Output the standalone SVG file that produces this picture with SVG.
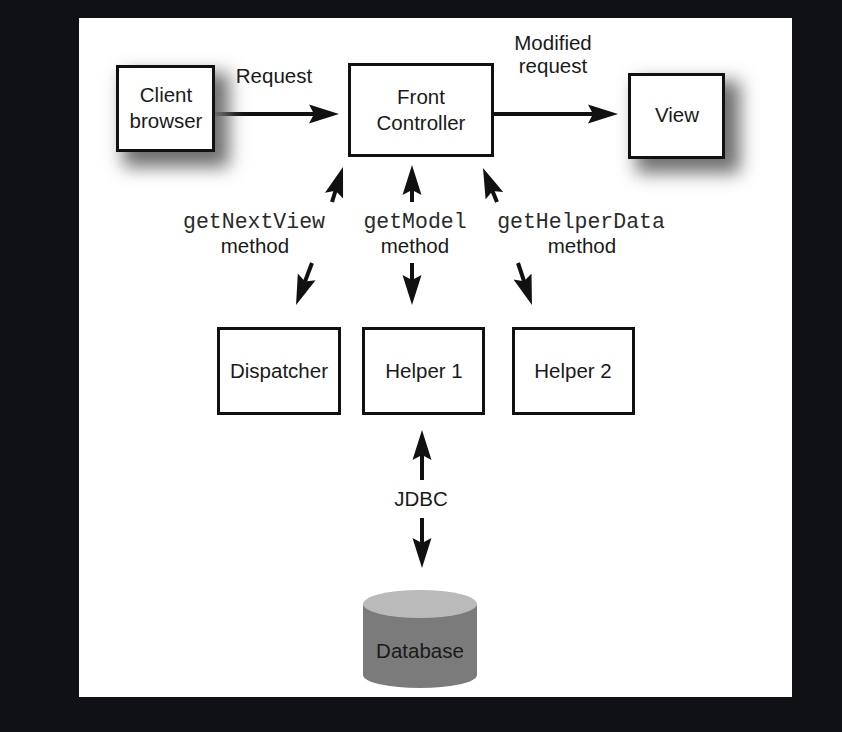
<svg xmlns="http://www.w3.org/2000/svg" width="842" height="732" viewBox="0 0 842 732">
<defs>
<style>
.box{fill:#fff;stroke:#111;stroke-width:3}
.lbl{font-family:"Liberation Sans",Arial,sans-serif;font-size:20.5px;fill:#1a1a1a;text-anchor:middle}
.mono{font-family:"Liberation Mono","Courier New",monospace;font-size:21.5px;fill:#2a2a2a;text-anchor:middle}
.conn{stroke:#111;stroke-width:4;fill:none;marker-end:url(#ah)}
.shadow{fill:#6e6e6e;filter:url(#blur)}
</style>
<filter id="blur" x="-50%" y="-50%" width="200%" height="200%">
<feGaussianBlur stdDeviation="9"/>
</filter>
<marker id="ah" markerUnits="userSpaceOnUse" viewBox="0 0 30 20" refX="20" refY="10" markerWidth="30" markerHeight="20" orient="auto">
<path d="M0,0.5 L30,10 L0,19.5 L5,10 Z" fill="#111"/>
</marker>
</defs>
<rect x="0" y="0" width="842" height="732" fill="#0f1115"/>
<rect x="79" y="18" width="713" height="679" fill="#fff"/>

<g id="connectors">
<line class="conn" x1="215" y1="114" x2="329" y2="114"/>
<line class="conn" x1="494" y1="114" x2="608" y2="114"/>
<line class="conn" x1="332" y1="202" x2="340" y2="176.5"/>
<line class="conn" x1="412" y1="202" x2="412" y2="175"/>
<line class="conn" x1="497" y1="202" x2="486.8" y2="177.2"/>
<line class="conn" x1="312" y1="263" x2="299.6" y2="295.6"/>
<line class="conn" x1="412" y1="263" x2="412" y2="295"/>
<line class="conn" x1="518" y1="263" x2="528.8" y2="295.5"/>
<line class="conn" x1="422" y1="480" x2="422" y2="440"/>
<line class="conn" x1="422" y1="518" x2="422" y2="558"/>
<text class="lbl" x="274" y="83">Request</text>
<text class="lbl" x="553" y="50">Modified</text>
<text class="lbl" x="553" y="73">request</text>
<text class="mono" x="254" y="228">getNextView</text>
<text class="lbl" x="255" y="253">method</text>
<text class="mono" x="415" y="228">getModel</text>
<text class="lbl" x="415" y="253">method</text>
<text class="mono" x="581" y="228">getHelperData</text>
<text class="lbl" x="582" y="253">method</text>
<text class="lbl" x="421" y="506">JDBC</text>
</g>

<g id="client">
<rect class="shadow" x="123" y="73" width="106" height="94"/>
<rect class="box" x="117.5" y="66.5" width="96" height="84"/>
<text class="lbl" x="166" y="102">Client</text>
<text class="lbl" x="166" y="128">browser</text>
</g>

<g id="front">
<rect class="box" x="349.5" y="64.5" width="143" height="91"/>
<text class="lbl" x="421" y="104">Front</text>
<text class="lbl" x="421" y="130">Controller</text>
</g>

<g id="view">
<rect class="shadow" x="636" y="81" width="104" height="92"/>
<rect class="box" x="629.5" y="74.5" width="94" height="83"/>
<text class="lbl" x="677" y="122">View</text>
</g>

<g id="dispatcher">
<rect class="box" x="218.5" y="328.5" width="121" height="85"/>
<text class="lbl" x="279" y="378">Dispatcher</text>
</g>

<g id="helper1">
<rect class="box" x="363.5" y="328.5" width="120" height="85"/>
<text class="lbl" x="424" y="378">Helper 1</text>
</g>

<g id="helper2">
<rect class="box" x="513.5" y="328.5" width="120" height="85"/>
<text class="lbl" x="573" y="378">Helper 2</text>
</g>

<g id="database">
<path d="M363,604 L363,675 A57,13 0 0 0 477,675 L477,604 Z" fill="#7b7b7b"/>
<ellipse cx="420" cy="604" rx="57" ry="14" fill="#bababa"/>
<text class="lbl" x="420" y="658">Database</text>
</g>
</svg>
